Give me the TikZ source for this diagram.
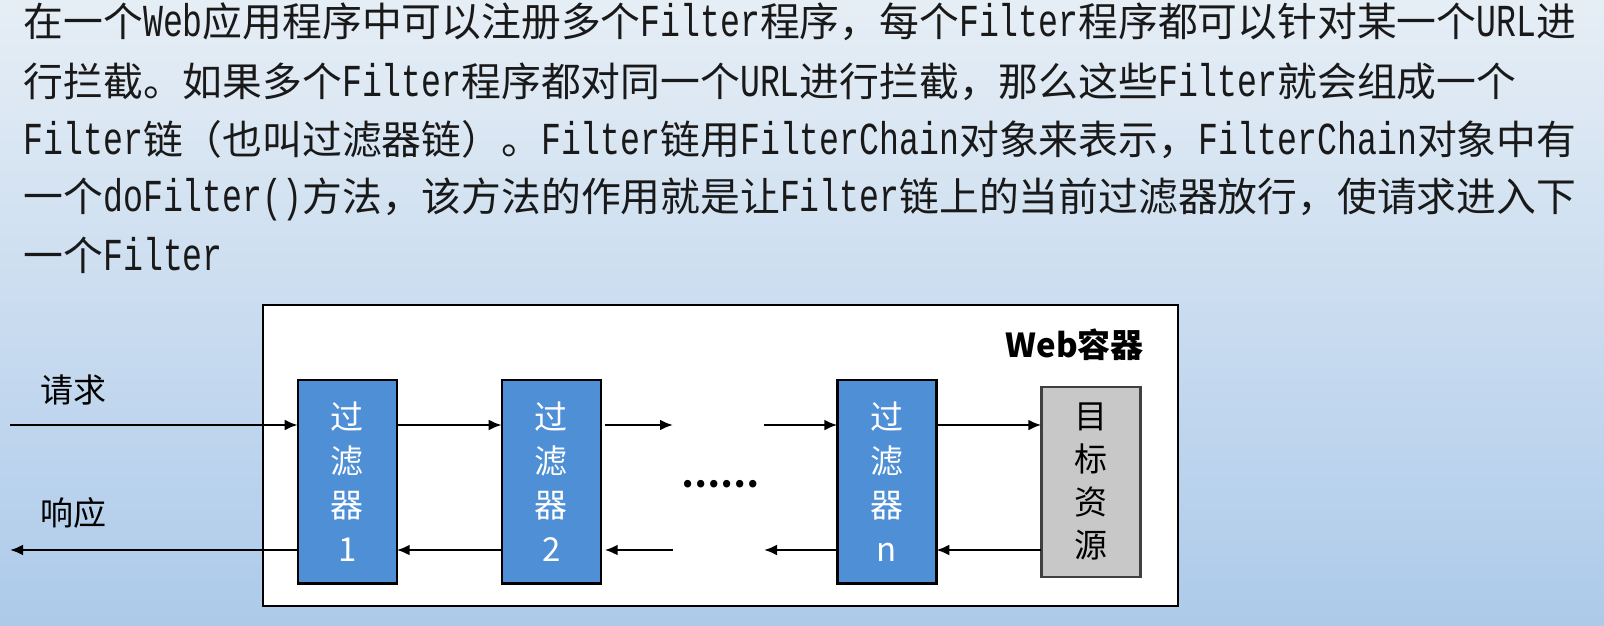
\documentclass[tikz,border=0pt]{standalone}
\usepackage{fontspec}
\setmainfont{Noto Sans CJK SC}
\newfontfamily\monofont[Scale=1.15,FakeStretch=0.725]{Liberation Mono}
\newcommand{\lat}[1]{{\monofont #1}}
\usetikzlibrary{positioning,arrows.meta}
\definecolor{bgtop}{HTML}{E6EEF5}
\definecolor{bgbot}{HTML}{ADCAEA}
\definecolor{filterblue}{HTML}{4F8FD6}
\definecolor{targetgrey}{HTML}{C8C8C8}

\begin{document}
\begin{tikzpicture}[x=1pt, y=-1pt, node distance={105pt}, line width=2.4pt,
    textline/.style = {anchor=base west, inner sep=0pt, text=black!90, font=\fontsize{39.8}{40}\selectfont},
    filter/.style = {draw, fill=filterblue, text=white, minimum width=99pt, minimum height=203.5pt, outer sep=0pt, align=center, font=\fontsize{33}{44}\selectfont},
    target/.style = {draw=black!75, fill=targetgrey, minimum width=99pt, minimum height=190pt, outer sep=0pt, align=center, font=\fontsize{33}{43}\selectfont},
    arr/.style = {-{Latex[length=13pt,width=11pt]}},
    toprow/.style = {yshift=56.7pt},
    botrow/.style = {yshift=-68.3pt}]
  \fill[top color=bgtop, bottom color=bgbot] (0,0) rectangle (1604,625);
  \useasboundingbox (0,0) rectangle (1604,625);

  % text above the picture
  \node[textline] (l1) at (22.5,36.5) {在一个\lat{Web}应用程序中可以注册多个\lat{Filter}程序，每个\lat{Filter}程序都可以针对某一个\lat{URL}进};
  \node[textline] (l2) at (22.5,96) {行拦截。如果多个\lat{Filter}程序都对同一个\lat{URL}进行拦截，那么这些\lat{Filter}就会组成一个};
  \node[textline] (l3) at (22.5,154) {\lat{Filter}链（也叫过滤器链）。\lat{Filter}链用\lat{FilterChain}对象来表示，\lat{FilterChain}对象中有};
  \node[textline] (l4) at (22.5,211) {一个\lat{doFilter()}方法，该方法的作用就是让\lat{Filter}链上的当前过滤器放行，使请求进入下};
  \node[textline] (l5) at (22.5,270) {一个\lat{Filter}};

  % web container
  \node[draw, fill=white, minimum width=915pt, minimum height=301pt, outer sep=0pt] (web) at (720.5,455.5) {};
  \node[anchor=east, inner sep=0pt, font=\fontsize{33}{33}\selectfont\bfseries] (webname) at ([xshift=-33pt,yshift=-40pt]web.north east) {Web容器};

  \node[filter] (f1) at (347.2,481.7) {过\\滤\\器\\1};
  \node[filter] (f2) [right=of f1] {过\\滤\\器\\2};
  \node[filter] (fn) [right=236.6pt of f2] {过\\滤\\器\\n};
  \node[target] (res) [right=of fn] {目\\标\\资\\源};
  \node[font=\fontsize{34.5}{34.5}\selectfont\bfseries] (dots) at (720,484) {……};

  \coordinate (req) at (10,425);
  \coordinate (resp) at (10,550);
  \coordinate (gap1) at (673,425);
  \coordinate (gap2) at (764,425);
  \coordinate (gap3) at (673,550);
  \coordinate (gap4) at (764,550);
  \node[font=\fontsize{33}{33}\selectfont] (reqlabel) at (73.5,390) {请求};
  \node[font=\fontsize{33}{33}\selectfont] (resplabel) at (73.5,513) {响应};

  \draw[arr] (req) -- ([toprow]f1.west);
  \draw[arr] ([toprow]f1.east) -- ([toprow]f2.west);
  \draw[arr] ([toprow,xshift=4pt]f2.east) -- (gap1);
  \draw[arr] (gap2) -- ([toprow]fn.west);
  \draw[arr] ([toprow]fn.east) -- ([toprow]res.west);
  \draw[arr] ([botrow]res.west) -- ([botrow]fn.east);
  \draw[arr] ([botrow]fn.west) -- (gap4);
  \draw[arr] (gap3) -- ([botrow,xshift=4pt]f2.east);
  \draw[arr] ([botrow]f2.west) -- ([botrow]f1.east);
  \draw[arr] ([botrow]f1.west) -- (resp);
\end{tikzpicture}
\end{document}
